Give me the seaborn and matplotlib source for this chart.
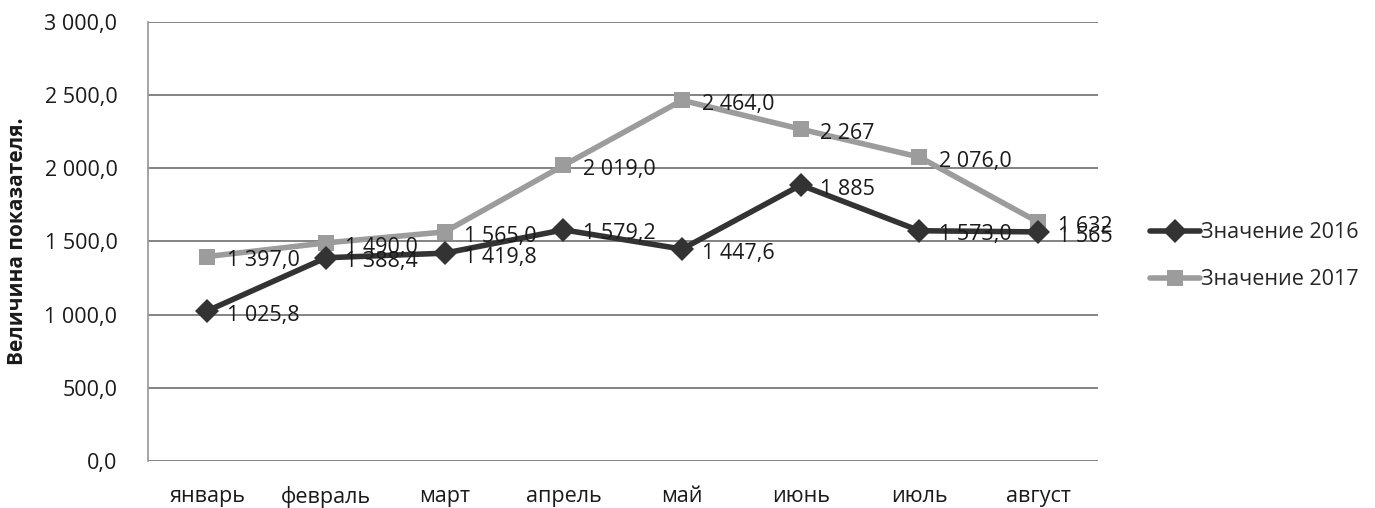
import matplotlib.pyplot as plt
import matplotlib.ticker as mticker
import seaborn as sns
import pandas as pd

months = ["январь", "февраль", "март", "апрель", "май", "июнь", "июль", "август"]
values_2016 = [1025.8, 1388.4, 1419.8, 1579.2, 1447.6, 1885.0, 1573.0, 1565.0]
values_2017 = [1397.0, 1490.0, 1565.0, 2019.0, 2464.0, 2267.0, 2076.0, 1632.0]
labels_2016 = ["1 025,8", "1 388,4", "1 419,8", "1 579,2", "1 447,6", "1 885", "1 573,0", "1 565"]
labels_2017 = ["1 397,0", "1 490,0", "1 565,0", "2 019,0", "2 464,0", "2 267", "2 076,0", "1 632"]
series_names = ["Значение 2016", "Значение 2017"]

sns.set_theme(style="white")
plt.rcParams["font.family"] = ["Open Sans", "DejaVu Sans"]

df = pd.DataFrame({
    "month": list(range(len(months))) * 2,
    "value": values_2016 + values_2017,
    "series": [series_names[0]] * len(months) + [series_names[1]] * len(months),
})

fig = plt.figure(figsize=(13.75, 5.08), dpi=100)
ax = fig.add_axes([0.1076, 0.0925, 0.6906, 0.8645])

colors = {series_names[0]: "#333333", series_names[1]: "#9c9c9c"}
sns.lineplot(data=df, x="month", y="value", hue="series", style="series",
             palette=colors, markers={series_names[0]: "D", series_names[1]: "s"},
             dashes=False, linewidth=4, markersize=12, markeredgewidth=0,
             hue_order=series_names[::-1], ax=ax, zorder=3)

# подписи данных справа от точек
for vals, labs in [(values_2016, labels_2016), (values_2017, labels_2017)]:
    for i, (v, t) in enumerate(zip(vals, labs)):
        ax.annotate(t, (i, v), xytext=(14, -3), textcoords="offset points",
                    ha="left", va="center", fontsize=15.5, color="#1a1a1a", zorder=4)

ax.set_xlim(-0.5, len(months) - 0.5)
ax.set_ylim(0, 3000)
ax.set_yticks(range(0, 3001, 500))
ax.yaxis.set_major_formatter(mticker.FuncFormatter(
    lambda v, p: f"{v:,.1f}".replace(",", " ").replace(".", ",")))
ax.set_xticks(range(len(months)))
ax.set_xticklabels(months)
ax.tick_params(axis="both", labelsize=15.5, length=0, colors="#1a1a1a")
ax.tick_params(axis="y", pad=22)
ax.tick_params(axis="x", pad=18)
ax.yaxis.grid(True, color="#6e6e6e", linewidth=1.2)
ax.set_axisbelow(True)
for side in ["top", "right", "bottom"]:
    ax.spines[side].set_visible(False)
ax.spines["left"].set_color("#999999")
ax.set_xlabel("")
ax.set_ylabel("Величина показателя.", fontsize=15, fontweight="bold",
              color="#1a1a1a", labelpad=12)

handles, labels = ax.get_legend_handles_labels()
order = [labels.index(n) for n in series_names]
ax.legend([handles[i] for i in order], [labels[i] for i in order],
          loc="center left", bbox_to_anchor=(1.035, 0.466), frameon=False,
          fontsize=15.5, handlelength=2.3, handletextpad=0.05, labelspacing=1.2)

fig.savefig("out.png", dpi=100)
